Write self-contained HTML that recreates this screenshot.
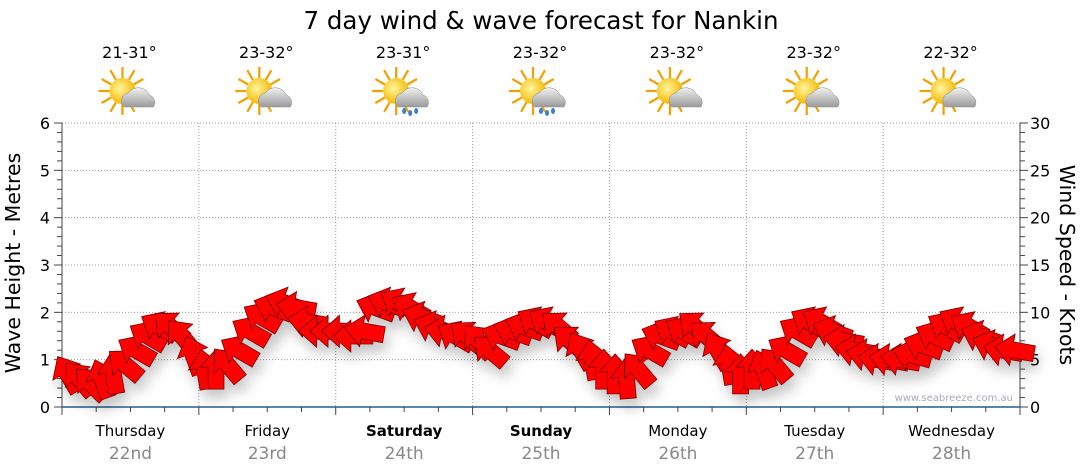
<!DOCTYPE html>
<html><head><meta charset="utf-8"><style>
body{margin:0;background:#fff;}
svg{display:block;font-family:"DejaVu Sans","Liberation Sans",sans-serif;}
</style></head><body>
<svg id="c" width="1080" height="475">
<defs>
<filter id="sh" x="-50%" y="-50%" width="200%" height="200%"><feDropShadow dx="4" dy="9" stdDeviation="6" flood-color="#000" flood-opacity="0.22"/></filter>
<radialGradient id="sun" cx="0.4" cy="0.4" r="0.6"><stop offset="0" stop-color="#fff6a0"/><stop offset="1" stop-color="#f5b800"/></radialGradient>
<linearGradient id="cloud" x1="0" y1="0" x2="0" y2="1"><stop offset="0" stop-color="#f2f2f2"/><stop offset="1" stop-color="#9a9a9a"/></linearGradient>
</defs>
<text x="541" y="29" text-anchor="middle" font-size="24.5" fill="#000">7 day wind &amp; wave forecast for Nankin</text>
<g id="grid"></g><g id="axes"></g><g id="icons"></g>
<g id="arrows" filter="url(#sh)"></g>
<text x="1013" y="401" text-anchor="end" font-size="10" fill="#aab">www.seabreeze.com.au</text>
<text transform="translate(20,263) rotate(-90)" text-anchor="middle" font-size="20.5">Wave Height - Metres</text>
<text transform="translate(1060,265) rotate(90)" text-anchor="middle" font-size="20.5">Wind Speed - Knots</text>
</svg>
<script>
const days=["Thursday","Friday","Saturday","Sunday","Monday","Tuesday","Wednesday"];
const dates=["22nd","23rd","24th","25th","26th","27th","28th"];
const temps=["21-31°","23-32°","23-31°","23-32°","23-32°","23-32°","22-32°"];
const rainy=[false,false,true,true,false,false,false];
const boldDays=[false,false,true,true,false,false,false];
const waveTicks=[0,1,2,3,4,5,6];
const windTicks=[0,5,10,15,20,25,30];
// wind speed every 2 hours (knots)
const windSpeed=[3.5,3,2.5,3,3.5,4.5,6,7.5,8.5,8.5,7.5,5.5,
4,4,4.5,6,8,9.5,10.5,11,10.5,9,8,8,
8,7.5,8,10.5,11,11,10.5,9.5,8.5,8,7.5,7.5,
7,6,7.5,8,8.5,9,9,8.5,7,6,5,4,
3.5,3,4,6,7.5,8,8,8.5,7.5,6,4.5,3.5,
4,4,4.5,6,8,9,9,8,7,6,5.5,5,
5,5,5.5,6.5,7.5,8.5,9,8.5,7.5,6.5,6,6];
// arrow screen angle (degrees, 0=right, -90=up)
const windDir=[-120,-130,-135,-110,-100,-140,-150,-150,-150,-140,-130,-110,
-100,-90,-130,-150,-150,-150,-160,-160,-170,-170,-180,-180,
-180,-180,-170,-160,-160,-150,-150,-160,-160,-170,-150,-140,
-130,-140,-160,-160,-160,-150,-150,-140,-140,-120,-100,-90,
-90,-95,-130,-150,-160,-150,-150,-140,-140,-120,-100,-90,
-90,-110,-130,-150,-150,-150,-150,-160,-170,-170,-170,-170,
-170,-170,-165,-160,-155,-150,-150,-150,-160,-160,-170,-170];
const NS="http://www.w3.org/2000/svg";
const X0=62,X1=1020,Y0=407,Y1=123;
const dayW=(X1-X0)/7;
const yWave=v=>Y0-(v/6)*(Y0-Y1);
const yWind=v=>Y0-(v/30)*(Y0-Y1);
const xHour=h=>X0+h/168*(X1-X0);
function el(tag,attrs,parent,txt){const e=document.createElementNS(NS,tag);for(const k in attrs)e.setAttribute(k,attrs[k]);if(txt!==undefined)e.textContent=txt;parent.appendChild(e);return e;}
const grid=document.getElementById('grid'),axes=document.getElementById('axes'),icons=document.getElementById('icons'),arr=document.getElementById('arrows');
waveTicks.forEach(v=>{if(v>0){const g=el('line',{x1:X0,x2:X1,y1:yWave(v),y2:yWave(v),stroke:'#999','stroke-dasharray':'1,2'},grid);}
const t=el('text',{x:50,y:yWave(v)+6,'text-anchor':'end','font-size':16},axes,String(v));});
windTicks.forEach(v=>{const t=el('text',{x:1030,y:yWind(v)+6,'font-size':16},axes,String(v));});
for(let i=0;i<=30;i++){const y=yWave(i/5);el('line',{x1:X0-(i%5==0?8:5),x2:X0,y1:y,y2:y,stroke:'#444'},axes);el('line',{x1:X1,x2:X1+(i%5==0?8:5),y1:y,y2:y,stroke:'#444'},axes);}
el('line',{x1:X0,x2:X0,y1:Y1,y2:Y0,stroke:'#444'},axes);
el('line',{x1:X1,x2:X1,y1:Y1,y2:Y0,stroke:'#444'},axes);
const xa=el('line',{x1:X0,x2:X1,y1:Y0,y2:Y0,stroke:'#1f5f8f','stroke-width':1.5},axes);

for(let h=0;h<=168;h+=6){const x=xHour(h);el('line',{x1:x,x2:x,y1:Y0,y2:Y0+(h%24==0?8:5),stroke:'#444'},axes);}
for(let d=0;d<7;d++){
 const cx=X0+dayW*(d+0.5);
 if(d>0){const g=el('line',{x1:X0+dayW*d,x2:X0+dayW*d,y1:Y1,y2:Y0,stroke:'#999','stroke-dasharray':'1,2'},grid);}
 const a=el('text',{x:cx,y:436,'text-anchor':'middle','font-size':15,'font-weight':boldDays[d]?'bold':'normal'},axes,days[d]);
 const b=el('text',{x:cx,y:459,'text-anchor':'middle','font-size':17,fill:'#888'},axes,dates[d]);
 const t=el('text',{x:cx-1,y:58,'text-anchor':'middle','font-size':16},icons,temps[d]);
 const g=el('g',{transform:`translate(${cx},95)`},icons);
 for(let r=0;r<12;r++){const an=r*30*Math.PI/180;el('line',{x1:-8+Math.cos(an)*13,y1:-4+Math.sin(an)*13,x2:-8+Math.cos(an)*24,y2:-4+Math.sin(an)*24,stroke:'#f0a000','stroke-width':2.2},g);}
 el('circle',{cx:-8,cy:-4,r:13,fill:'url(#sun)'},g);
 el('path',{d:'M-6,12 a8,8 0 0 1 4,-14 a12,12 0 0 1 21,2 a8,8 0 0 1 4,12 z',fill:'url(#cloud)',stroke:'#888','stroke-width':0.5},g);
 if(rainy[d]){[[0,16],[6,18],[12,16]].forEach(p=>el('ellipse',{cx:p[0],cy:p[1],rx:2,ry:3,fill:'#3a7fd0'},g));}
}
windSpeed.forEach((v,i)=>{
 const x=xHour(i*2+1),y=yWind(v);
 const p=el('polygon',{points:'20,0 2,-16 2,-8 -20,-8 -20,8 2,8 2,16',fill:'#ff0000',stroke:'#700','stroke-width':0.8,transform:`translate(${x},${y}) rotate(${windDir[i]})`},arr);
 
 
});
</script>
</body></html>
